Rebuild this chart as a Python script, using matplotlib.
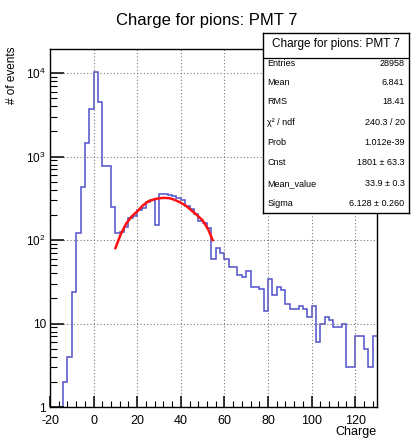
import matplotlib
matplotlib.use("Agg")
import matplotlib.pyplot as plt
from matplotlib.ticker import MultipleLocator, LogLocator, NullFormatter
import numpy as np

plt.rcParams['font.family'] = ['Liberation Sans', 'DejaVu Sans']
plt.rcParams['axes.unicode_minus'] = False

# histogram: 2-unit bins from -20 to 130
bin_edges = np.arange(-20, 132, 2)
counts = [0, 0, 0, 2, 4, 24, 122, 435, 1440, 3680,          # -20 .. -2
          10400, 4530, 776, 760, 250, 122, 126, 145, 185, 195,   # 0 .. 18
          230, 245, 285, 300, 152, 360, 355, 345, 340, 315,      # 20 .. 38
          300, 255, 235, 205, 168, 160, 138, 59, 81, 70,         # 40 .. 58
          59, 48, 48, 38, 36, 43, 27, 27, 26, 14,                # 60 .. 78
          34, 22, 27, 25, 17, 15, 15, 16, 15, 12,                # 80 .. 98
          16, 6, 10, 12, 11, 9, 9, 10, 3, 3,                     # 100 .. 118
          7, 7, 5, 3, 7]                                         # 120 .. 128

# fitted curve
fit_x = [10, 12.5, 15, 17.5, 20, 22.5, 25, 27.5, 30, 32.5,
         35, 37.5, 40, 42.5, 45, 47.5, 50, 52.5, 54.6]
fit_y = [80, 118, 158, 192, 220, 258, 290, 306, 316, 320,
         316, 300, 280, 255, 225, 198, 172, 135, 100]

stat_labels = ["Entries", "Mean", "RMS", "\u03c7\u00b2 / ndf", "Prob",
               "Cnst", "Mean_value", "Sigma"]
stat_values = ["28958", "6.841", "18.41", "240.3 / 20", "1.012e-39",
               "1801 \u00b1 63.3", "33.9 \u00b1 0.3", "6.128 \u00b1 0.260"]

W, H = 413, 440
fig = plt.figure(figsize=(W / 100, H / 100), dpi=100)
ax = fig.add_axes([50 / W, 1 - 407 / H, 327 / W, 358 / H])

c = np.array(counts, dtype=float)
c[c <= 0] = 1e-3
ax.stairs(c, bin_edges, baseline=None, color='#5050cc', lw=1.1)
ax.plot(fit_x, fit_y, color='#ff1010', lw=1.8)

ax.set_yscale('log')
ax.set_xlim(-20, 130)
ax.set_ylim(1, 1.94e4)

ax.xaxis.set_major_locator(MultipleLocator(20))
ax.xaxis.set_minor_locator(MultipleLocator(4))
ax.set_yticks([1, 10, 100, 1000, 10000])
ax.set_yticklabels(['1', '10', r'$\mathregular{10^{2}}$',
                    r'$\mathregular{10^{3}}$', r'$\mathregular{10^{4}}$'])
ax.yaxis.set_minor_locator(LogLocator(base=10, subs=np.arange(2, 10)))
ax.yaxis.set_minor_formatter(NullFormatter())
ax.tick_params(which='both', direction='in', top=False, right=False,
               labelsize=9, color='black')
ax.tick_params(axis='x', which='major', length=8, width=1.1, pad=6)
ax.tick_params(axis='x', which='minor', length=4, width=0.8)
ax.tick_params(axis='y', which='major', length=10, width=1.1, pad=3,
               labelsize=8.5)
ax.tick_params(axis='y', which='minor', length=5, width=0.8)
ax.grid(True, which='major', ls=(0, (1, 2)), color='#777777', lw=0.8)
for s in ax.spines.values():
    s.set_linewidth(1.0)

fig.text(0.5, 1 - 20 / H, "Charge for pions: PMT 7", ha='center',
         va='center', fontsize=12)
fig.text(377 / W, 1 - 432 / H, "Charge", ha='right', va='center', fontsize=9)
fig.text(12 / W, 1 - 47 / H, "# of events", ha='center', va='top',
         rotation=90, fontsize=8.5)

# stat box
bl, br, bt, bb = 263, 409, 32.5, 213
box = fig.add_axes([bl / W, 1 - bb / H, (br - bl) / W, (bb - bt) / H])
box.set_xticks([])
box.set_yticks([])
box.set_xlim(0, 1)
box.set_ylim(0, 1)
box.set_facecolor('white')
for s in box.spines.values():
    s.set_linewidth(1.0)
bh = bb - bt
box.axhline((bb - 58.3) / bh, color='black', lw=0.9)
box.text(0.5, (bb - 44) / bh, "Charge for pions: PMT 7", ha='center',
         va='center', fontsize=8.5)
row_y = [63.3, 82.7, 101.7, 122, 142.7, 162.7, 183.3, 203.7]
for lab, val, yy in zip(stat_labels, stat_values, row_y):
    box.text(0.03, (bb - yy) / bh, lab, ha='left', va='center', fontsize=6.5)
    box.text(0.97, (bb - yy) / bh, val, ha='right', va='center', fontsize=6.5)

fig.savefig("out.png", dpi=100)
